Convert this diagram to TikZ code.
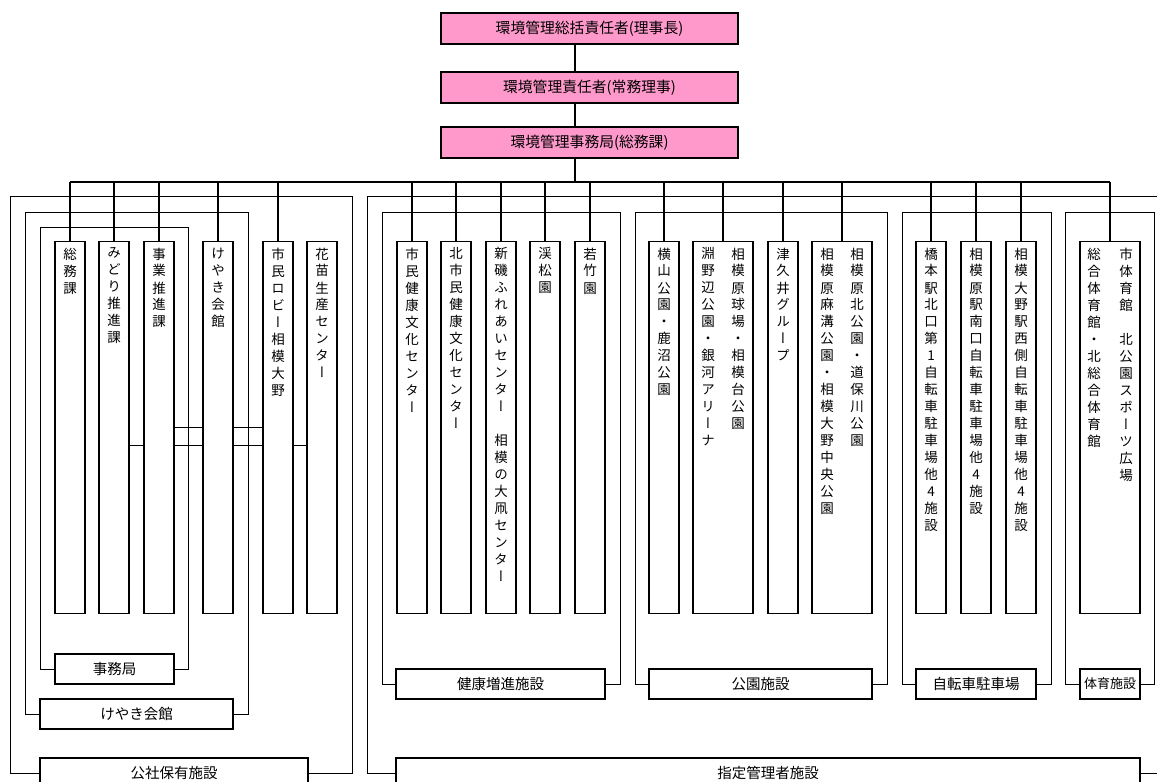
\documentclass[tikz,border=0pt]{standalone}
\usepackage{fontspec}
\setmainfont{Noto Sans CJK JP}
\newfontfamily\tatefont[RawFeature=+vert]{Noto Sans CJK JP}
\definecolor{kanripink}{RGB}{255,153,204}

\def\tatenext#1{\ifx\relax#1\else\hbox to 14pt{\hss#1\hss}\expandafter\tatenext\fi}
\newcommand\tate[1]{\vbox to 360pt{\tatefont\fontsize{13.5}{17}\selectfont\baselineskip=17pt\tatenext#1\relax\vfil}}

\begin{document}
\begin{tikzpicture}
  [x=1pt,y=-1pt,every node/.style={inner sep=0pt},
   kanri/.style={draw,line width=2pt,fill=kanripink,minimum width=297pt,minimum height=31pt,font=\fontsize{14.8}{16}\selectfont},
   kabox/.style={draw,line width=1.3pt,anchor=north,minimum width=30pt,inner xsep=0pt,inner ysep=6pt},
   widebox/.style={kabox,minimum width=60pt},
   shisetsu/.style={draw,line width=1.3pt,minimum height=30pt,font=\fontsize{14.5}{16}\selectfont},
   waku/.style={line width=1pt},
   sen/.style={line width=2pt}]
  \useasboundingbox (0,0) rectangle (1157,782);

  \node[kanri] (sekinin1) at (589.5,28.5) {環境管理総括責任者(理事長)};
  \node[kanri] (sekinin2) at (589.5,87.5) {環境管理責任者(常務理事)};
  \node[kanri] (jimukyoku) at (589.5,142.5) {環境管理事務局(総務課)};
  \coordinate (hub) at (575,182);

  \node[kabox] (ko1) at (70,241)  {\tate{総務課}};
  \node[kabox] (ko2) at (114,241) {\tate{みどり推進課}};
  \node[kabox] (ko3) at (159,241) {\tate{事業推進課}};
  \node[kabox] (ko4) at (218,241) {\tate{けやき会館}};
  \node[kabox] (ko5) at (278,241) {\tate{市民ロビー相模大野}};
  \node[kabox] (ko6) at (322,241) {\tate{花苗生産センター}};

  \node[kabox] (ke1) at (412,241) {\tate{市民健康文化センター}};
  \node[kabox] (ke2) at (456,241) {\tate{北市民健康文化センター}};
  \node[kabox] (ke3) at (501,241) {\tate{新磯ふれあいセンター　相模の大凧センター}};
  \node[kabox] (ke4) at (545,241) {\tate{渓松園}};
  \node[kabox] (ke5) at (590,241) {\tate{若竹園}};

  \node[kabox] (pa1) at (664,241) {\tate{横山公園・鹿沼公園}};
  \node[widebox] (pa2) at (723,241) {\tate{淵野辺公園・銀河アリーナ}\hskip16pt\tate{相模原球場・相模台公園}};
  \node[kabox] (pa3) at (783,241) {\tate{津久井グループ}};
  \node[widebox] (pa4) at (842,241) {\tate{相模原麻溝公園・相模大野中央公園}\hskip16pt\tate{相模原北公園・道保川公園}};

  \node[kabox] (ji1) at (931,241)  {\tate{橋本駅北口第1自転車駐車場他4施設}};
  \node[kabox] (ji2) at (976,241)  {\tate{相模原駅南口自転車駐車場他4施設}};
  \node[kabox] (ji3) at (1021,241) {\tate{相模大野駅西側自転車駐車場他4施設}};

  \node[widebox] (ta1) at (1110,241) {\tate{総合体育館・北総合体育館}\hskip18pt\tate{市体育館　北公園スポーツ広場}};

  \node[shisetsu,minimum width=119pt] (jimu) at (114.5,669) {事務局};
  \node[shisetsu,minimum width=193pt] (keyaki) at (136.5,714) {けやき会館};
  \node[shisetsu,minimum width=268pt] (kousha) at (174,773) {公社保有施設};
  \node[shisetsu,minimum width=209pt] (kenko) at (500.5,684) {健康増進施設};
  \node[shisetsu,minimum width=223pt] (kouen) at (760.5,684) {公園施設};
  \node[shisetsu,minimum width=120pt] (jitensha) at (976,684) {自転車駐車場};
  \node[shisetsu,minimum width=60pt,font=\fontsize{13}{15}\selectfont] (taiiku) at (1110,684) {体育施設};
  \node[shisetsu,minimum width=744pt] (shitei) at (768,773) {指定管理者施設};

  \draw[sen] (sekinin1.south -| hub) -- (sekinin2.north -| hub)
    (sekinin2.south -| hub) -- (jimukyoku.north -| hub)
    (jimukyoku.south -| hub) -- (hub)
    (ko1.north |- hub) -- (ta1.north |- hub);
  \foreach \n in {ko1,ko2,ko3,ko4,ko5,ke1,ke2,ke3,ke4,ke5,pa1,pa2,pa3,pa4,ji1,ji2,ji3,ta1}
    \draw[sen] (\n.north) -- (\n.north |- hub);

  \draw[waku] (jimu.west) -| (40,227) -| (188,669) -- (jimu.east);
  \draw[waku] (keyaki.west) -| (25,212) -| (248,714) -- (keyaki.east);
  \draw[waku] (kousha.west) -| (10,196) -| (352,773) -- (kousha.east);
  \draw[waku] (kenko.west) -| (382,212) -| (620,684) -- (kenko.east);
  \draw[waku] (kouen.west) -| (635,212) -| (887,684) -- (kouen.east);
  \draw[waku] (jitensha.west) -| (902,212) -| (1051,684) -- (jitensha.east);
  \draw[waku] (taiiku.west) -| (1065,212) -| (1154,684) -- (taiiku.east);
  \draw[waku] (shitei.west) -| (367,196) -| (1159,773) -- (shitei.east);

  \coordinate (mid1) at (0,427);
  \coordinate (mid2) at (0,445);
  \draw[waku] (ko2.east |- mid2) -- (ko3.west |- mid2)
    (ko3.east |- mid2) -- (ko4.west |- mid2)
    (ko4.east |- mid2) -- (ko5.west |- mid2)
    (ko5.east |- mid2) -- (ko6.west |- mid2)
    (ko3.east |- mid1) -- (ko4.west |- mid1)
    (ko4.east |- mid1) -- (ko5.west |- mid1);
\end{tikzpicture}
\end{document}
